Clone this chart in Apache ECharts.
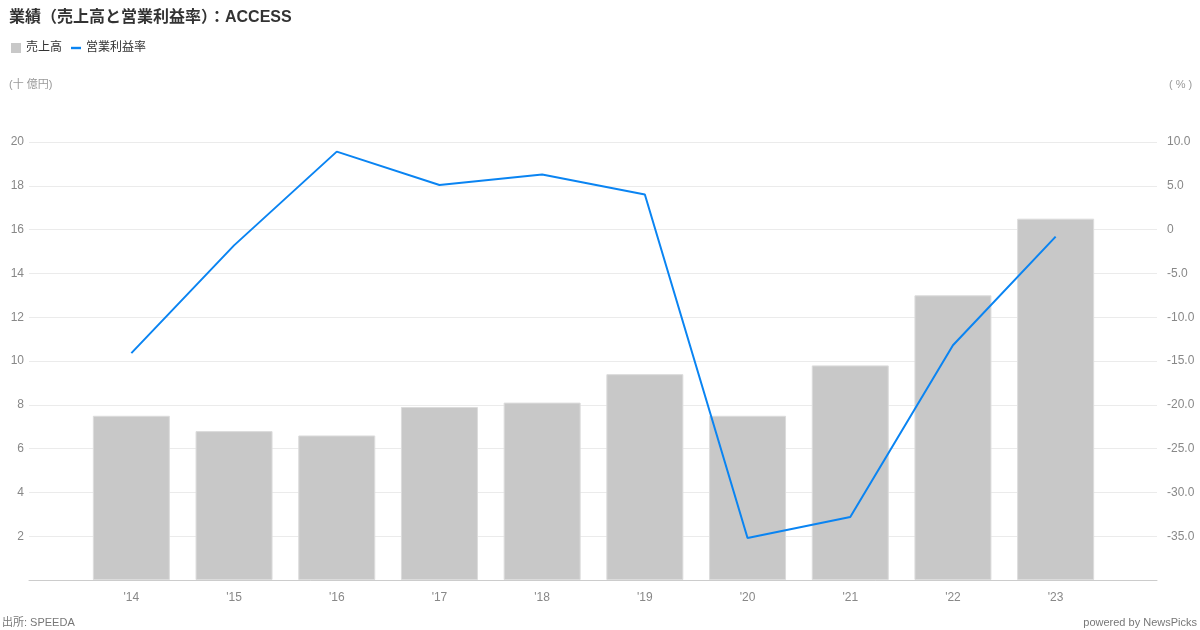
<!DOCTYPE html>
<html><head><meta charset="utf-8">
<script src="https://cdn.jsdelivr.net/npm/echarts@6/dist/echarts.min.js"></script>
<style>html,body{margin:0;padding:0;background:#fff}#c{width:1200px;height:630px}</style>
</head><body><div id="c"></div>
<script>
const categories = ["'14","'15","'16","'17","'18","'19","'20","'21","'22","'23"];
const sales = [7.5, 6.8, 6.6, 7.9, 8.1, 9.4, 7.5, 9.8, 13.0, 16.5];
const margin = [-14.1, -1.8, 8.9, 5.1, 6.3, 4.0, -35.2, -32.8, -13.2, -0.8];
const leftTicks = {min: 0, max: 20, interval: 2};
const rightTicks = {min: -40, max: 10, interval: 5};

const font = '"Liberation Sans", "Noto Sans CJK JP", sans-serif';
const chart = echarts.init(document.getElementById('c'));
chart.setOption({
  animation: false,
  textStyle: {fontFamily: font},
  title: {text: '業績（売上高と営業利益率）：ACCESS', left: 4, top: 5,
    textStyle: {fontSize: 16, fontWeight: 'bold', color: '#333', fontFamily: font}},
  legend: {left: 6, top: 37, itemWidth: 10, itemHeight: 10, itemGap: 9, symbolKeepAspect: true,
    textStyle: {fontSize: 12, color: '#333', fontFamily: font},
    data: [{name: '売上高', icon: 'rect', itemStyle: {borderWidth: 0}},
           {name: '営業利益率', icon: 'path://M0,0L10,0L10,2.4L0,2.4Z', itemStyle: {color: '#0a84f2'}}]},
  grid: [
    {left: 29, right: 43, top: 142, bottom: 50},
    {left: 80, right: 93, top: 142, bottom: 50}
  ],
  xAxis: [
    {gridIndex: 0, type: 'value', min: 0, max: 1, axisLabel: {show: false}, axisTick: {show: false},
      splitLine: {show: false}, axisLine: {show: true, lineStyle: {color: '#ccc'}}},
    {gridIndex: 1, type: 'category', data: categories, axisLine: {show: false}, axisTick: {show: false},
      axisLabel: {color: '#888', fontSize: 12, margin: 12, fontFamily: font}}
  ],
  yAxis: [
    {gridIndex: 0, type: 'value', min: leftTicks.min, max: leftTicks.max, interval: leftTicks.interval,
      name: '(十 億円)', nameLocation: 'end', nameGap: 52,
      nameTextStyle: {color: '#999', fontSize: 11, align: 'left', padding: [0, 0, 0, -20]},
      axisLine: {show: false}, axisTick: {show: false},
      axisLabel: {color: '#888', fontSize: 12, margin: 5, fontFamily: font,
        formatter: v => v === 0 ? '' : String(v)},
      splitLine: {show: true, lineStyle: {color: '#ebebeb'}}},
    {gridIndex: 0, type: 'value', position: 'right', min: rightTicks.min, max: rightTicks.max, interval: rightTicks.interval,
      name: '( % )', nameLocation: 'end', nameGap: 52,
      nameTextStyle: {color: '#999', fontSize: 11, align: 'left', padding: [0, 0, 0, 12]},
      axisLine: {show: false}, axisTick: {show: false},
      axisLabel: {color: '#888', fontSize: 12, margin: 10, fontFamily: font,
        formatter: v => v === rightTicks.min ? '' : (v === 0 ? '0' : v.toFixed(1))},
      splitLine: {show: false}},
    {gridIndex: 1, type: 'value', min: leftTicks.min, max: leftTicks.max, show: false, splitLine: {show: false}},
    {gridIndex: 1, type: 'value', min: rightTicks.min, max: rightTicks.max, show: false, splitLine: {show: false}}
  ],
  series: [
    {name: '売上高', type: 'bar', xAxisIndex: 1, yAxisIndex: 2, data: sales, barWidth: 77,
      itemStyle: {color: '#c8c8c8', borderColor: '#dcdcdc', borderWidth: 1}},
    {name: '営業利益率', type: 'line', xAxisIndex: 1, yAxisIndex: 3, data: margin, showSymbol: false, symbol: 'none',
      lineStyle: {color: '#0a84f2', width: 2}, itemStyle: {color: '#0a84f2'}}
  ],
  graphic: [
    {type: 'text', left: 2, bottom: 2, style: {text: '出所: SPEEDA', fontSize: 11, fill: '#777', fontFamily: font}},
    {type: 'text', right: 3, bottom: 2, style: {text: 'powered by NewsPicks', fontSize: 11, fill: '#777', fontFamily: font}}
  ]
});
</script></body></html>
